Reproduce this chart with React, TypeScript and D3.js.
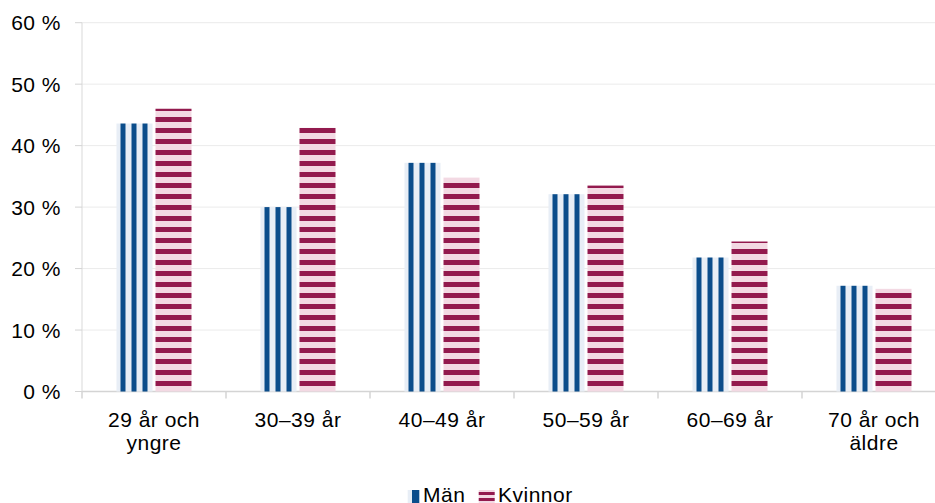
import React from "react";
import * as d3 from "d3";

const categories: string[][] = [
  ["29 år och", "yngre"],
  ["30–39 år"],
  ["40–49 år"],
  ["50–59 år"],
  ["60–69 år"],
  ["70 år och", "äldre"],
];
const seriesNames = ["Män", "Kvinnor"];
const man = [43.6, 30.0, 37.2, 32.1, 21.8, 17.2];
const kvinnor = [46.0, 42.9, 34.8, 33.5, 24.4, 16.7];
const yTicks = [0, 10, 20, 30, 40, 50, 60];

const W = 935;
const H = 503;
const left = 82;
const right = 946;
const yTop = 22.7;
const yBottom = 391.5;

const BLUE = "#0b4d8b";
const LIGHTBLUE = "#e8eef6";
const RED = "#931a4e";
const PINK = "#f3d9e3";
const FONT = "'Liberation Sans', Arial, Helvetica, sans-serif";
const FS = 21;
const LS = 0.5;

export default function App() {
  const keys = categories.map((c) => c.join(" "));
  const x0 = d3.scaleBand<string>().domain(keys).range([left, right]).padding(0);
  const step = 39;
  const pi = 3 / 39;
  const po = (x0.bandwidth() / step - 2 + pi) / 2;
  const x1 = d3
    .scaleBand<string>()
    .domain(seriesNames)
    .range([0, x0.bandwidth()])
    .paddingInner(pi)
    .paddingOuter(po);
  const y = d3.scaleLinear().domain([0, 60]).range([yBottom, yTop]);
  const bw = x1.bandwidth();

  const data = [man, kvinnor];

  return (
    <svg
      width={W}
      height={H}
      style={{ position: "absolute", left: 0, top: 0, display: "block" }}
      fontFamily={FONT}
    >
      <defs>
        {keys.map((k, i) => (
          <pattern
            key={"pv" + i}
            id={"pv" + i}
            patternUnits="userSpaceOnUse"
            x={(x0(k) as number) + (x1("Män") as number) + 4}
            y={0}
            width={11}
            height={11}
          >
            <rect width={11} height={11} fill={LIGHTBLUE} />
            <rect width={5} height={11} fill={BLUE} />
          </pattern>
        ))}
        <pattern id="ph" patternUnits="userSpaceOnUse" x={0} y={7} width={11} height={11}>
          <rect width={11} height={11} fill={PINK} />
          <rect width={11} height={5} fill={RED} />
        </pattern>
        <pattern id="phLeg" patternUnits="userSpaceOnUse" x={0} y={492} width={11} height={6}>
          <rect width={11} height={6} fill={PINK} />
          <rect width={11} height={3} fill={RED} />
        </pattern>
      </defs>

      {yTicks.map((t) => (
        <line
          key={"g" + t}
          x1={left}
          x2={W}
          y1={y(t)}
          y2={y(t)}
          stroke={t === 0 ? "#d4d4d4" : "#ebebeb"}
          strokeWidth={t === 0 ? 1.5 : 1}
        />
      ))}
      <line x1={left} x2={left} y1={yTop} y2={yBottom} stroke="#d9d9d9" strokeWidth={1} />
      {yTicks.map((t) => (
        <g key={"yt" + t}>
          <line x1={left - 7} x2={left} y1={y(t)} y2={y(t)} stroke="#d4d4d4" strokeWidth={1} />
          <text x={61} y={y(t)} dy={7.5} textAnchor="end" fontSize={FS} letterSpacing={LS} fill="#000">
            {t} %
          </text>
        </g>
      ))}
      {keys.concat(["end"]).map((k, i) => {
        const xx = left + i * x0.step();
        return (
          <line key={"xt" + i} x1={xx} x2={xx} y1={yBottom} y2={yBottom + 7} stroke="#d4d4d4" strokeWidth={1.5} />
        );
      })}

      {keys.map((k, i) => (
        <g key={"b" + i}>
          {seriesNames.map((s, j) => {
            const v = data[j][i];
            const bx = (x0(k) as number) + (x1(s) as number);
            return (
              <rect
                key={s}
                x={bx}
                y={y(v)}
                width={bw}
                height={yBottom - y(v)}
                fill={j === 0 ? `url(#pv${i})` : "url(#ph)"}
              />
            );
          })}
        </g>
      ))}

      {categories.map((c, i) => {
        const cx = (x0(keys[i]) as number) + x0.bandwidth() / 2;
        return (
          <text key={"xl" + i} x={cx} y={426.7} textAnchor="middle" fontSize={FS} letterSpacing={LS} fill="#000">
            {c.map((line, li) => (
              <tspan key={li} x={cx} dy={li === 0 ? 0 : 23.5}>
                {line}
              </tspan>
            ))}
          </text>
        );
      })}

      <rect x={407.7} y={490} width={4.3} height={13} fill={LIGHTBLUE} />
      <rect x={412} y={490} width={7.3} height={13} fill={BLUE} />
      <text x={423} y={501.5} fontSize={FS} letterSpacing={LS} fill="#000">
        {seriesNames[0]}
      </text>
      <rect x={478.7} y={490} width={16} height={13} fill="url(#phLeg)" />
      <text x={498} y={501.5} fontSize={FS} letterSpacing={LS} fill="#000">
        {seriesNames[1]}
      </text>
    </svg>
  );
}
